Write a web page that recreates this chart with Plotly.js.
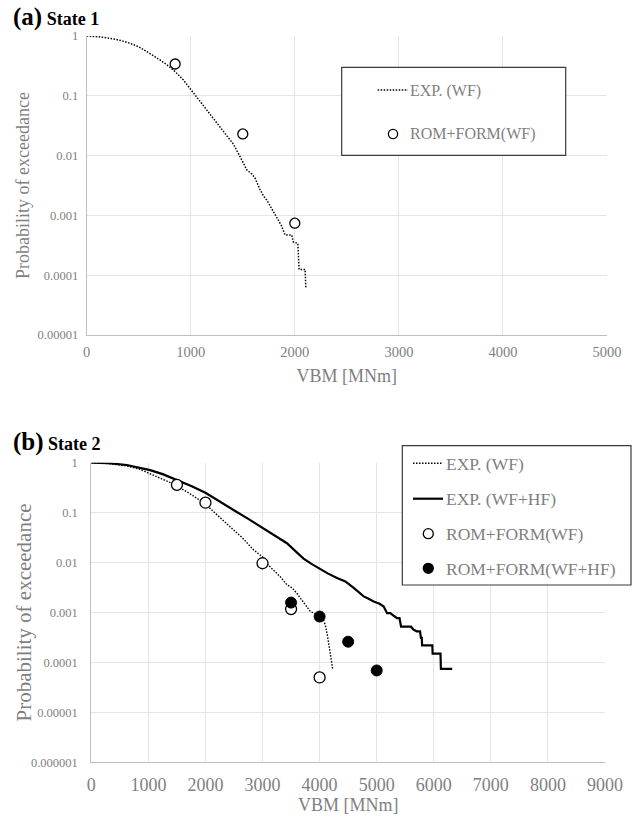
<!DOCTYPE html>
<html>
<head>
<meta charset="utf-8">
<script src="https://cdn.plot.ly/plotly-3.0.1.min.js"></script>
<style>
  html, body { margin: 0; padding: 0; background: #ffffff; }
  #chart { width: 637px; height: 819px; }
</style>
</head>
<body>
<div id="chart"></div>
<script>
// ---- State 1: exceedance probability of VBM, wave-frequency only ----
const s1ExpVbm = [0, 120, 224, 330, 416, 500, 577, 650, 705, 770, 833, 929, 1025, 1121, 1218, 1314,
  1410, 1474, 1538, 1587, 1618, 1666, 1700, 1731, 1780, 1827, 1870, 1907, 1971, 1985, 2029, 2041, 2099, 2106];
const s1ExpProb = [1, 0.97, 0.915, 0.84, 0.755, 0.66, 0.55, 0.46, 0.397, 0.33, 0.27, 0.184, 0.112, 0.068,
  0.042, 0.026, 0.0155, 0.0096, 0.0058, 0.0049, 0.0042, 0.0027, 0.0021, 0.0018, 0.0013, 0.00095, 0.00068,
  0.00047, 0.00047, 0.00036, 0.00034, 0.000125, 0.000125, 0.00006];
const s1RomVbm = [850, 1500, 2000];
const s1RomProb = [0.34, 0.023, 0.00074];

// ---- State 2: wave-frequency and wave-frequency + high-frequency ----
const s2ExpWfVbm = [0, 300, 621, 850, 1030, 1250, 1439, 1700, 2000, 2140, 2300, 2491, 2650, 2842, 3018,
  3076, 3200, 3310, 3427, 3520, 3603, 3700, 3837, 3920, 4012, 4060, 4100, 4140, 4188, 4217, 4229];
const s2ExpWfProb = [1, 0.96, 0.86, 0.74, 0.6, 0.47, 0.375, 0.25, 0.15, 0.105, 0.072, 0.047, 0.031, 0.018,
  0.0125, 0.0095, 0.0068, 0.0052, 0.0036, 0.0031, 0.0024, 0.0017, 0.00105, 0.00095, 0.00088, 0.00075,
  0.00056, 0.00033, 0.000132, 0.000085, 0.000074];
const s2ExpHfVbm = [0, 300, 621, 850, 1030, 1250, 1498, 1750, 2000, 2250, 2491, 2750, 3000, 3200, 3427,
  3600, 3719, 3850, 3983, 4150, 4305, 4451, 4597, 4700, 4772, 4850, 4947, 5050, 5123, 5182, 5240, 5298,
  5357, 5400, 5427, 5600, 5640, 5700, 5760, 5775, 5790, 5796, 5975, 5980, 6118, 6125, 6323];
const s2ExpHfProb = [1, 0.98, 0.9, 0.8, 0.71, 0.59, 0.45, 0.34, 0.25, 0.17, 0.113, 0.075, 0.049, 0.035,
  0.0244, 0.016, 0.012, 0.0095, 0.0077, 0.006, 0.0049, 0.0042, 0.0031, 0.0025, 0.0021, 0.0019, 0.00166,
  0.0015, 0.00132, 0.00097, 0.00097, 0.00086, 0.00077, 0.00077, 0.00052, 0.00052, 0.00046, 0.00042,
  0.00042, 0.00031, 0.00031, 0.00022, 0.00022, 0.00015, 0.00015, 0.000074, 0.000074];
const s2RomWfVbm = [1500, 2000, 3000, 3500, 4000];
const s2RomWfProb = [0.36, 0.158, 0.0097, 0.00117, 0.00005];
const s2RomHfVbm = [3500, 4000, 4500, 5000];
const s2RomHfProb = [0.00158, 0.00083, 0.00026, 0.000069];

// ---- tick labels and series names ----
const vbmTicks1 = [0, 1000, 2000, 3000, 4000, 5000];
const vbmTicks2 = [0, 1000, 2000, 3000, 4000, 5000, 6000, 7000, 8000, 9000];
const probTicks1 = [1, 0.1, 0.01, 0.001, 0.0001, 0.00001];
const probTickText1 = ['1', '0.1', '0.01', '0.001', '0.0001', '0.00001'];
const probTicks2 = [1, 0.1, 0.01, 0.001, 0.0001, 0.00001, 0.000001];
const probTickText2 = ['1', '0.1', '0.01', '0.001', '0.0001', '0.00001', '0.000001'];
const seriesNames = ['EXP. (WF)', 'EXP. (WF+HF)', 'ROM+FORM(WF)', 'ROM+FORM(WF+HF)'];
const panelTitles = ['(a)', 'State 1', '(b)', 'State 2'];
const xTitle = 'VBM [MNm]';
const yTitle = 'Probability of exceedance';

// ---- page geometry (pixels) ----
const W = 637, H = 819;
const fx = p => p / W;
const fy = p => 1 - p / H;
const boxA = { l: 86.7, r: 607, t: 36, b: 335 };
const boxB = { l: 91.3, r: 605, t: 462.7, b: 762.3 };

const SERIF = 'Liberation Serif';
const GREY = '#7f7f7f';
const GRID = '#e4e4e4';
const AXLINE = '#bfbfbf';
const DOTS = '1.5px,1.5px';

const openMarker = size => ({ symbol: 'circle', size: size, color: '#ffffff', line: { color: '#000000', width: 1.3 } });
const fullMarker = size => ({ symbol: 'circle', size: size, color: '#000000', line: { color: '#000000', width: 1 } });

const traces = [
  { x: s1ExpVbm, y: s1ExpProb, xaxis: 'x', yaxis: 'y', mode: 'lines', name: seriesNames[0],
    line: { color: '#000000', width: 1.5, dash: DOTS }, showlegend: false },
  { x: s1RomVbm, y: s1RomProb, xaxis: 'x', yaxis: 'y', mode: 'markers', name: seriesNames[2],
    marker: openMarker(10), showlegend: false },
  { x: s2ExpWfVbm, y: s2ExpWfProb, xaxis: 'x2', yaxis: 'y2', mode: 'lines', name: seriesNames[0],
    line: { color: '#000000', width: 1.4, dash: DOTS }, showlegend: false },
  { x: s2ExpHfVbm, y: s2ExpHfProb, xaxis: 'x2', yaxis: 'y2', mode: 'lines', name: seriesNames[1],
    line: { color: '#000000', width: 2.2 }, showlegend: false },
  { x: s2RomWfVbm, y: s2RomWfProb, xaxis: 'x2', yaxis: 'y2', mode: 'markers', name: seriesNames[2],
    marker: openMarker(11), showlegend: false },
  { x: s2RomHfVbm, y: s2RomHfProb, xaxis: 'x2', yaxis: 'y2', mode: 'markers', name: seriesNames[3],
    marker: fullMarker(11), showlegend: false }
];

function xAxis(box, ticks, tickSize, titleSize, labelGap, titleGap, anchor) {
  return {
    domain: [fx(box.l), fx(box.r)], anchor: anchor,
    range: [ticks[0], ticks[ticks.length - 1]], tickvals: ticks, ticktext: ticks.map(String),
    showgrid: true, gridcolor: GRID, gridwidth: 1, zeroline: false,
    showline: true, linecolor: AXLINE, linewidth: 1, ticks: '',
    ticklabelstandoff: labelGap, automargin: false,
    tickfont: { family: SERIF, size: tickSize, color: GREY },
    title: { text: xTitle, standoff: titleGap, font: { family: SERIF, size: titleSize, color: GREY } }
  };
}
function yAxis(box, ticks, text, labelGap, anchor) {
  return {
    domain: [fy(box.b), fy(box.t)], anchor: anchor, type: 'log',
    range: [Math.log10(ticks[ticks.length - 1]), Math.log10(ticks[0])],
    tickvals: ticks, ticktext: text,
    showgrid: true, gridcolor: GRID, gridwidth: 1, zeroline: false,
    showline: true, linecolor: AXLINE, linewidth: 1, ticks: '',
    ticklabelstandoff: labelGap, automargin: false,
    tickfont: { family: SERIF, size: 12.5, color: GREY }
  };
}

// ---- legend boxes, axis titles and headings ----
const shapes = [];
const annotations = [];

function legendBox(x0, y0, x1, y1) {
  shapes.push({ type: 'rect', xref: 'paper', yref: 'paper', x0: fx(x0), x1: fx(x1), y0: fy(y1), y1: fy(y0),
    line: { color: '#3a3a3a', width: 1.2 }, fillcolor: '#ffffff', layer: 'above' });
}
function legendLine(x0, x1, y, width, dash) {
  shapes.push({ type: 'line', xref: 'paper', yref: 'paper', x0: fx(x0), x1: fx(x1), y0: fy(y), y1: fy(y),
    line: { color: '#000000', width: width, dash: dash }, layer: 'above' });
}
function legendDot(cx, cy, r, filled) {
  shapes.push({ type: 'circle', xref: 'paper', yref: 'paper', x0: fx(cx - r), x1: fx(cx + r), y0: fy(cy + r), y1: fy(cy - r),
    line: { color: '#000000', width: 1.3 }, fillcolor: filled ? '#000000' : '#ffffff', layer: 'above' });
}
function legendText(x, y, text, size) {
  annotations.push({ xref: 'paper', yref: 'paper', x: fx(x), y: fy(y), xanchor: 'left', yanchor: 'middle',
    text: text, showarrow: false, borderpad: 0, font: { family: SERIF, size: size, color: GREY } });
}
function yAxisTitle(cx, box, size) {
  annotations.push({ xref: 'paper', yref: 'paper', x: fx(cx), y: fy((box.t + box.b) / 2),
    xanchor: 'center', yanchor: 'middle', textangle: -90, text: yTitle, showarrow: false, borderpad: 0,
    font: { family: SERIF, size: size, color: GREY } });
}

// State 1 legend
legendBox(341.7, 67.3, 565.7, 155.3);
legendLine(377.7, 408, 90, 1.5, DOTS);
legendText(409, 90.5, seriesNames[0], 16);
legendDot(393, 134, 4.6, false);
legendText(409, 134.5, seriesNames[2], 16);

// State 2 legend
legendBox(402.3, 445.7, 631, 585);
legendLine(413, 443, 463.3, 1.4, DOTS);
legendText(445, 463.8, seriesNames[0], 17.5);
legendLine(413, 443, 498.7, 2.2, 'solid');
legendText(445, 499.2, seriesNames[1], 17.5);
legendDot(428.3, 533.7, 5, false);
legendText(445, 534.2, seriesNames[2], 17.5);
legendDot(428.3, 568.3, 5, true);
legendText(445, 568.8, seriesNames[3], 17.5);

// Vertical axis titles
yAxisTitle(23.5, boxA, 18);
yAxisTitle(23, boxB, 21);

// Panel headings
annotations.push({ xref: 'paper', yref: 'paper', x: fx(12), y: fy(17), xanchor: 'left', yanchor: 'middle',
  showarrow: false, borderpad: 0, font: { family: SERIF, size: 18, color: '#000000' },
  text: '<b><span style="font-size:25px">' + panelTitles[0] + '</span> ' + panelTitles[1] + '</b>' });
annotations.push({ xref: 'paper', yref: 'paper', x: fx(12), y: fy(442), xanchor: 'left', yanchor: 'middle',
  showarrow: false, borderpad: 0, font: { family: SERIF, size: 18, color: '#000000' },
  text: '<b><span style="font-size:25px">' + panelTitles[2] + '</span> ' + panelTitles[3] + '</b>' });

const layout = {
  width: W, height: H,
  margin: { l: 0, r: 0, t: 0, b: 0, pad: 0 },
  paper_bgcolor: '#ffffff', plot_bgcolor: '#ffffff',
  showlegend: false,
  font: { family: SERIF, color: GREY },
  xaxis: xAxis(boxA, vbmTicks1, 14.5, 18, 4, 9, 'y'),
  yaxis: yAxis(boxA, probTicks1, probTickText1, 5, 'x'),
  xaxis2: xAxis(boxB, vbmTicks2, 18, 18, 6, 3, 'y2'),
  yaxis2: yAxis(boxB, probTicks2, probTickText2, 10, 'x2'),
  shapes: shapes,
  annotations: annotations
};

Plotly.newPlot('chart', traces, layout, { displayModeBar: false, staticPlot: true });
</script>
</body>
</html>
